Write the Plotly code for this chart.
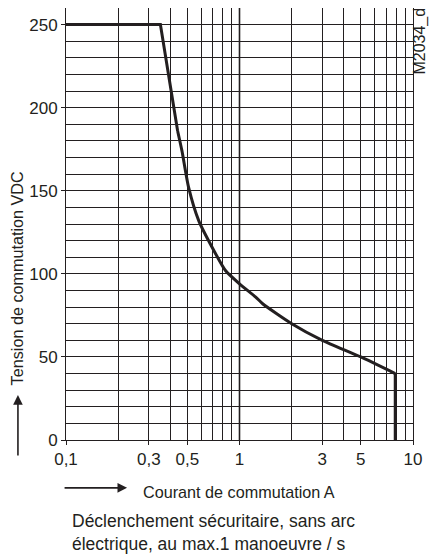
import plotly.graph_objects as go

# Data
current_A = [0.1, 0.35, 0.44, 0.466, 0.509, 0.582, 0.695, 0.83, 1.0, 1.24, 1.36, 2.0, 3.0, 5.0, 7.9, 7.9]
voltage_VDC = [250, 250, 186, 174, 152, 132, 116, 102, 94, 86, 82, 70, 60, 50, 40, 0]

x_tickvals = [0.1, 0.3, 0.5, 1, 3, 5, 10]
x_ticktext = ["0,1", "0,3", "0,5", "1", "3", "5", "10"]
x_gridvals = [m * d for d in (0.1, 1) for m in range(1, 10)] + [10]

y_tickvals = [0, 50, 100, 150, 200, 250]
y_ticktext = ["0", "50", "100", "150", "200", "250"]
y_gridvals = list(range(0, 261, 10))

FONT = "Liberation Sans, Arial"
FS_TICK = 17
FS_TITLE = 16.2
FS_NOTE = 17.5
INK = "#231f20"

# straight parts (plateau/steep drop and final vertical drop) and the curved knee
KNEE_START, KNEE_END = 2, 14
straight_a = slice(0, KNEE_START + 1)
knee = slice(KNEE_START, KNEE_END + 1)
straight_b = slice(KNEE_END, None)

fig = go.Figure()
for sl, shape in ((straight_a, "linear"), (knee, "spline"), (straight_b, "linear")):
    fig.add_trace(go.Scatter(x=current_A[sl], y=voltage_VDC[sl], mode="lines",
                             line=dict(color=INK, width=3, shape=shape, smoothing=0.6),
                             showlegend=False, hoverinfo="skip"))

# thicker grid line at x=1
fig.add_shape(type="line", xref="x", yref="paper", x0=1, x1=1, y0=0, y1=1,
              line=dict(color=INK, width=1.6), layer="below")

fig.update_layout(
    width=430, height=552,
    margin=dict(l=58, r=25, t=0, b=120),
    paper_bgcolor="white", plot_bgcolor="white",
    font=dict(family=FONT, size=FS_TICK, color=INK),
    xaxis=dict(type="log", range=[-1, 1], tickmode="array",
               tickvals=x_tickvals, ticktext=x_ticktext,
               showgrid=True, gridcolor=INK, gridwidth=1,
               ticks="outside", ticklen=4, tickcolor=INK,
               minor=dict(tickmode="array", tickvals=x_gridvals, showgrid=True,
                          gridcolor=INK, gridwidth=1, ticks=""),
               showline=True, linecolor=INK, linewidth=1, mirror=True,
               zeroline=False, tickfont=dict(size=FS_TICK)),
    yaxis=dict(range=[0, 260], tickmode="array",
               tickvals=y_tickvals, ticktext=y_ticktext,
               showgrid=True, gridcolor=INK, gridwidth=1,
               ticks="outside", ticklen=4, tickcolor=INK,
               minor=dict(tickmode="array", tickvals=y_gridvals, showgrid=True,
                          gridcolor=INK, gridwidth=1, ticks=""),
               showline=True, linecolor=INK, linewidth=1, mirror=True,
               zeroline=False, tickfont=dict(size=FS_TICK)),
    annotations=[
        dict(text="Tension de commutation VDC", xref="paper", yref="paper",
             x=-0.1413, y=0.374, textangle=-90, showarrow=False,
             xanchor="center", yanchor="middle", font=dict(size=FS_TITLE)),
        dict(text="", xref="paper", yref="paper", x=-0.1385, y=0.1039,
             ax=0, ay=62, showarrow=True, arrowhead=2, arrowsize=1.2,
             arrowwidth=1.6, arrowcolor=INK),
        dict(text="Courant de commutation A", xref="paper", yref="paper",
             x=0.499, y=-0.12, showarrow=False, xanchor="center",
             yanchor="middle", font=dict(size=FS_TITLE)),
        dict(text="", xref="paper", yref="paper", x=0.176, y=-0.1108,
             ax=-64, ay=0, showarrow=True, arrowhead=2, arrowsize=1.2,
             arrowwidth=1.6, arrowcolor=INK),
        dict(text="Déclenchement sécuritaire, sans arc<br>électrique, au max.1 manoeuvre / s",
             xref="paper", yref="paper", x=0.0115, y=-0.2146, showarrow=False,
             xanchor="left", yanchor="middle", align="left", font=dict(size=FS_NOTE)),
        dict(text="M2034_d", xref="paper", yref="paper", x=1.021, y=0.923,
             textangle=-90, showarrow=False, xanchor="center", yanchor="middle",
             font=dict(size=16)),
    ],
)

fig.write_html("out.html")
